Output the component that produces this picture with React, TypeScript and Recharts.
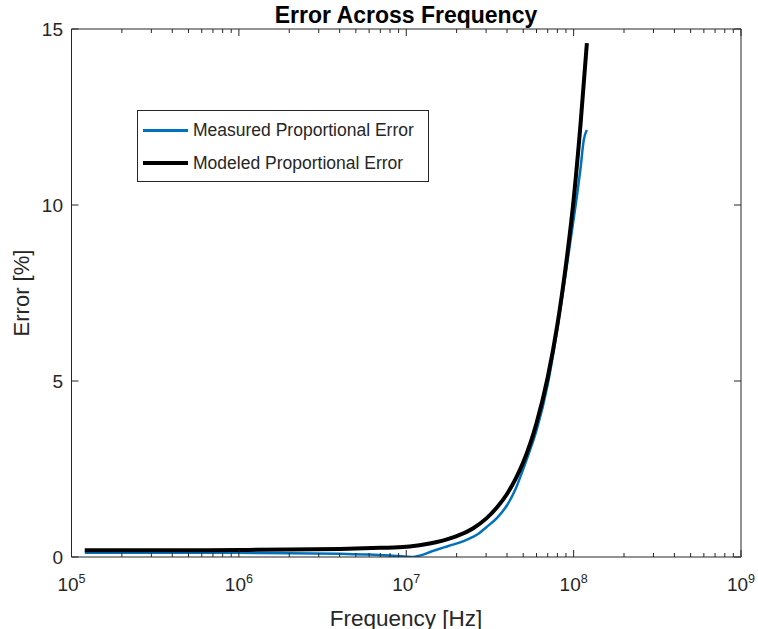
import { LineChart, Line, XAxis, YAxis, Legend } from 'recharts'

// values (frequency in Hz, error in %)
const measuredFreq = [1.2e5, 3e5, 1e6, 2e6, 4e6, 6e6, 8e6, 1e7, 1.1e7, 1.2e7, 1.3e7, 1.4e7, 1.55e7, 1.7e7, 1.9e7, 2.2e7, 2.5e7, 2.7e7, 3e7, 3.5e7, 4e7, 4.5e7, 5e7, 5.5e7, 6e7, 7e7, 8e7, 9e7, 1e8, 1.05e8, 1.1e8, 1.15e8, 1.2e8]
const measuredErr = [0.12, 0.12, 0.12, 0.11, 0.09, 0.07, 0.04, 0.01, 0.0, 0.04, 0.09, 0.15, 0.22, 0.28, 0.35, 0.45, 0.57, 0.66, 0.84, 1.12, 1.47, 1.93, 2.5, 3.05, 3.6, 4.9, 6.5, 8.1, 9.6, 10.3, 11.05, 11.85, 12.13]

const modeledFreq = [1.2e5, 3e5, 1e6, 2e6, 4e6, 7e6, 1e7, 1.25e7, 1.5e7, 1.75e7, 2e7, 2.5e7, 3e7, 3.5e7, 4e7, 4.5e7, 5e7, 6e7, 7e7, 8e7, 9e7, 1e8, 1.1e8, 1.2e8]
const modeledErr = [0.19, 0.19, 0.2, 0.21, 0.23, 0.26, 0.29, 0.35, 0.42, 0.5, 0.59, 0.81, 1.09, 1.42, 1.79, 2.22, 2.69, 3.8, 5.1, 6.6, 8.3, 10.15, 12.3, 14.6]

const decades = [1e5, 1e6, 1e7, 1e8, 1e9]
const minorSteps = [2, 3, 4, 5, 6, 7, 8, 9]
const errTicks = [0, 5, 10, 15]

const measured = measuredFreq.map((f, i) => ({ f, err: measuredErr[i] }))
const modeled = modeledFreq.map((f, i) => ({ f, err: modeledErr[i] }))
const freqTicks = decades.flatMap((d, i) => (i < decades.length - 1 ? [d, ...minorSteps.map((m) => m * d)] : [d]))

const INK = '#262626'
const FONT = '"Liberation Sans", Arial, Helvetica, sans-serif'
const BLUE = '#0072BD'

const isDecade = (v: number) => decades.includes(v)

function BottomTick({ x, y, payload }: any) {
  const v = payload.value
  const major = isDecade(v)
  return (
    <g>
      <line x1={x} x2={x} y1={y} y2={y - (major ? 7 : 4)} stroke={INK} />
      {major && (
        <text x={x} y={y + 34} textAnchor="middle" fontSize={19} fontFamily={FONT} fill={INK}>
          10<tspan dy={-8} fontSize={12.5}>{Math.round(Math.log10(v))}</tspan>
        </text>
      )}
    </g>
  )
}

function TopTick({ x, y, payload }: any) {
  const major = isDecade(payload.value)
  return <line x1={x} x2={x} y1={y} y2={y + (major ? 7 : 4)} stroke={INK} />
}

function LeftTick({ x, y, payload }: any) {
  return (
    <g>
      <line x1={x} x2={x + 7} y1={y} y2={y} stroke={INK} />
      <text x={x - 8.5} y={y + 7} textAnchor="end" fontSize={19} fontFamily={FONT} fill={INK}>
        {payload.value}
      </text>
    </g>
  )
}

function RightTick({ x, y }: any) {
  return <line x1={x} x2={x - 7} y1={y} y2={y} stroke={INK} />
}

function LegendBox() {
  const rows = [
    { label: 'Measured Proportional Error', color: BLUE, w: 3, top: 19 },
    { label: 'Modeled Proportional Error', color: '#000', w: 4, top: 52 },
  ]
  return (
    <div style={{ position: 'relative', width: 292, height: 72, boxSizing: 'border-box', border: `1px solid ${INK}`, background: '#fff', fontFamily: FONT }}>
      {rows.map((r) => (
        <div key={r.label} style={{ position: 'absolute', left: 5, top: r.top - 11, height: 22, display: 'flex', alignItems: 'center' }}>
          <div style={{ width: 45, height: r.w, background: r.color }} />
          <span style={{ marginLeft: 5, fontSize: 17.5, color: INK, whiteSpace: 'nowrap' }}>{r.label}</span>
        </div>
      ))}
    </div>
  )
}

const axisProps = { tickSize: 0, tickMargin: 0, tickLine: false, interval: 0 as const, axisLine: { stroke: INK }, allowDataOverflow: true }

export default function App() {
  return (
    <div style={{ position: 'absolute', left: 0, top: 0, width: 758, height: 629, background: '#fff' }}>
      <LineChart width={758} height={629} margin={{ top: 28, right: 16, bottom: 71, left: 70.5 }}>
        <XAxis dataKey="f" type="number" scale="log" domain={[1e5, 1e9]} ticks={freqTicks} height={1} {...axisProps} tick={(p: any) => <BottomTick {...p} />} />
        <XAxis xAxisId="top" orientation="top" dataKey="f" type="number" scale="log" domain={[1e5, 1e9]} ticks={freqTicks} height={1} {...axisProps} tick={(p: any) => <TopTick {...p} />} />
        <YAxis type="number" domain={[0, 15]} ticks={errTicks} width={1} {...axisProps} tick={(p: any) => <LeftTick {...p} />} />
        <YAxis yAxisId="right" orientation="right" type="number" domain={[0, 15]} ticks={errTicks} width={1} {...axisProps} tick={(p: any) => <RightTick {...p} />} />
        <Legend layout="horizontal" verticalAlign="middle" align="center" wrapperStyle={{ left: 137, top: 110, width: 292, height: 72 }} content={() => <LegendBox />} />
        <Line data={measured} dataKey="err" type="monotone" stroke={BLUE} strokeWidth={2.5} dot={false} activeDot={false} isAnimationActive={false} />
        <Line data={modeled} dataKey="err" type="monotone" stroke="#000" strokeWidth={4} dot={false} activeDot={false} isAnimationActive={false} />
      </LineChart>
      <svg width={758} height={629} style={{ position: 'absolute', left: 0, top: 0, pointerEvents: 'none' }}>
        <text x={406} y={23} textAnchor="middle" fontSize={23} fontWeight="bold" fontFamily={FONT} fill="#000">
          Error Across Frequency
        </text>
        <text x={406} y={625.5} textAnchor="middle" fontSize={22.5} fontFamily={FONT} fill={INK}>
          Frequency [Hz]
        </text>
        <text transform="translate(28.5,293) rotate(-90)" textAnchor="middle" fontSize={22} fontFamily={FONT} fill={INK}>
          Error [%]
        </text>
      </svg>
    </div>
  )
}
